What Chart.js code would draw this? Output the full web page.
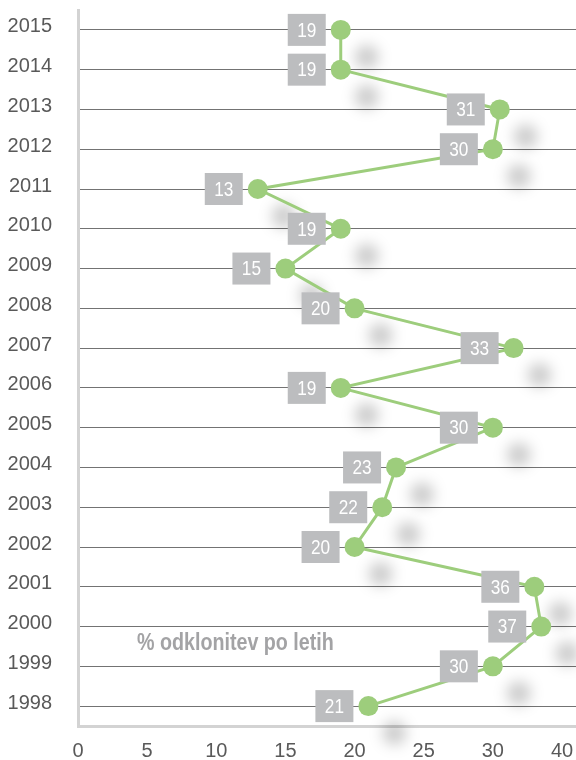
<!DOCTYPE html>
<html>
<head>
<meta charset="utf-8">
<script src="https://cdn.jsdelivr.net/npm/chart.js@4.4.0/dist/chart.umd.min.js"></script>
<style>
html,body{margin:0;padding:0;background:#ffffff;}
#wrap{width:576px;height:760px;position:relative;}
</style>
</head>
<body>
<div id="wrap"><canvas id="c"></canvas></div>
<script>
// ---- data ----
const years = ['1998','1999','2000','2001','2002','2003','2004','2005','2006','2007','2008','2009','2010','2011','2012','2013','2014','2015'];
const values = [21, 30, 37, 36, 20, 22, 23, 30, 19, 33, 20, 15, 19, 13, 30, 31, 19, 19];
const xTicks = [0, 5, 10, 15, 20, 25, 30, 40];
const chartNote = '% odklonitev po letih';

// ---- fonts ----
function hasFont(name){
  const c = document.createElement('canvas').getContext('2d');
  const s = '2015 odklonitev 1998';
  c.font = '40px monospace'; const w0 = c.measureText(s).width;
  c.font = '40px "' + name + '", monospace'; return c.measureText(s).width !== w0;
}
const NARROW = hasFont('Liberation Sans Narrow') ? 'Liberation Sans Narrow' : (hasFont('Arial Narrow') ? 'Arial Narrow' : null);
const FONT = NARROW ? '"' + NARROW + '", "Liberation Sans", Arial, sans-serif' : '"Liberation Sans", Arial, sans-serif';
const SQUEEZE = NARROW ? 1 : 0.82;   // horizontal condensing for hand-drawn text
const TICK_SIZE = NARROW ? 22 : 20;

// ---- styles ----
const GREEN = '#9dcd7c';
const GRID = '#737373';
const AXIS = '#d3d3d3';
const BOX = '#bcbdbf';
const TICK = '#595959';
const NONE = 'rgba(0,0,0,0)';

function alignPx(p, w){ return Math.round(p - w/2) + w/2; }

// Scale that spaces the given ticks evenly and interpolates between them
class EvenTickScale extends Chart.LinearScale {
  buildTicks(){ return xTicks.map(v => ({value: v})); }
  _frac(v){
    const t = xTicks, n = t.length - 1;
    let i = 0;
    while (i < n - 1 && v > t[i+1]) i++;
    return (i + (v - t[i]) / (t[i+1] - t[i])) / n;
  }
  getPixelForValue(v){ return this.getPixelForDecimal(this._frac(v)); }
  getValueForPixel(p){
    const t = xTicks, n = t.length - 1;
    const f = this.getDecimalForPixel(p) * n;
    const i = Math.min(Math.max(Math.floor(f), 0), n - 1);
    return t[i] + (f - i) * (t[i+1] - t[i]);
  }
}
EvenTickScale.id = 'evenTick';
EvenTickScale.defaults = Chart.LinearScale.defaults;
Chart.register(EvenTickScale);

function squeezedText(ctx, text, x, y, align){
  ctx.save();
  ctx.translate(x, y);
  ctx.scale(SQUEEZE, 1);
  ctx.textAlign = align;
  ctx.fillText(text, 0, 0);
  ctx.restore();
}

const shadowPlugin = {
  id: 'pointShadows',
  beforeDatasetsDraw(chart){
    const {ctx, chartArea: a, scales: {y}} = chart;
    ctx.save();
    // extend horizontal grid lines and bottom axis to the right edge
    ctx.strokeStyle = GRID; ctx.lineWidth = 1;
    y.ticks.forEach((t, i) => {
      const py = alignPx(y.getPixelForTick(i), 1);
      ctx.beginPath(); ctx.moveTo(a.right - 1, py); ctx.lineTo(chart.width, py); ctx.stroke();
    });
    ctx.strokeStyle = AXIS; ctx.lineWidth = 3;
    const by = alignPx(a.bottom, 3);
    ctx.beginPath(); ctx.moveTo(a.right - 1, by); ctx.lineTo(chart.width, by); ctx.stroke();
    // blurred drop shadows
    const meta = chart.getDatasetMeta(0);
    ctx.filter = 'blur(7px)';
    ctx.fillStyle = 'rgba(0,0,0,0.2)';
    meta.data.forEach(pt => {
      ctx.beginPath(); ctx.arc(pt.x + 26, pt.y + 27, 12, 0, Math.PI * 2); ctx.fill();
    });
    ctx.restore();
  }
};

const labelPlugin = {
  id: 'boxLabels',
  afterDatasetsDraw(chart){
    const {ctx} = chart;
    const meta = chart.getDatasetMeta(0);
    const ds = chart.data.datasets[0].data;
    ctx.save();
    meta.data.forEach((pt, i) => {
      const cx = pt.x - 34, cy = pt.y;
      ctx.fillStyle = BOX;
      ctx.fillRect(cx - 19, cy - 16, 38, 32);
      ctx.fillStyle = '#ffffff';
      ctx.font = '21px ' + FONT;
      ctx.textBaseline = 'middle';
      squeezedText(ctx, String(ds[i]), cx, cy + 1, 'center');
    });
    // annotation text
    const a = chart.chartArea, y = chart.scales.y;
    const iy = years.indexOf('2000'), iy2 = years.indexOf('1999');
    const ty = (y.getPixelForValue(iy) + y.getPixelForValue(iy2)) / 2 - 3;
    ctx.fillStyle = '#a3a3a5';
    ctx.font = 'bold 24px ' + FONT;
    ctx.textBaseline = 'middle';
    squeezedText(ctx, chartNote, a.left + 59, ty, 'left');
    ctx.restore();
  }
};

new Chart(document.getElementById('c'), {
  type: 'line',
  data: {
    labels: years,
    datasets: [{
      data: values,
      borderColor: GREEN,
      backgroundColor: GREEN,
      borderWidth: 3,
      pointRadius: 10,
      pointHoverRadius: 10,
      pointBorderWidth: 0,
      pointBackgroundColor: GREEN,
      tension: 0,
      clip: false
    }]
  },
  options: {
    indexAxis: 'y',
    responsive: true,
    maintainAspectRatio: false,
    devicePixelRatio: 1,
    animation: false,
    layout: { padding: { top: 6, right: 14, left: 0, bottom: 0 } },
    plugins: { legend: { display: false }, tooltip: { enabled: false } },
    scales: {
      x: {
        type: 'evenTick',
        min: 0, max: 40,
        grid: { display: true, drawOnChartArea: false, drawTicks: true, tickLength: 13, color: NONE, tickColor: NONE },
        border: { display: true, color: AXIS, width: 3 },
        ticks: { color: TICK, font: { family: FONT, size: TICK_SIZE }, padding: 0, maxRotation: 0, autoSkip: false },
        afterFit(s){ s.height = 34; }
      },
      y: {
        type: 'category',
        reverse: true,
        offset: true,
        grid: { display: true, color: GRID, lineWidth: 1, drawTicks: true, tickLength: 26, tickColor: NONE },
        border: { display: true, color: AXIS, width: 3 },
        ticks: { color: TICK, font: { family: FONT, size: TICK_SIZE, lineHeight: 0.5 }, padding: 0, labelOffset: -3, autoSkip: false },
        afterFit(s){ s.width = 78; s.paddingTop = 0; s.paddingBottom = 0; }
      }
    }
  },
  plugins: [shadowPlugin, labelPlugin]
});
</script>
</body>
</html>
